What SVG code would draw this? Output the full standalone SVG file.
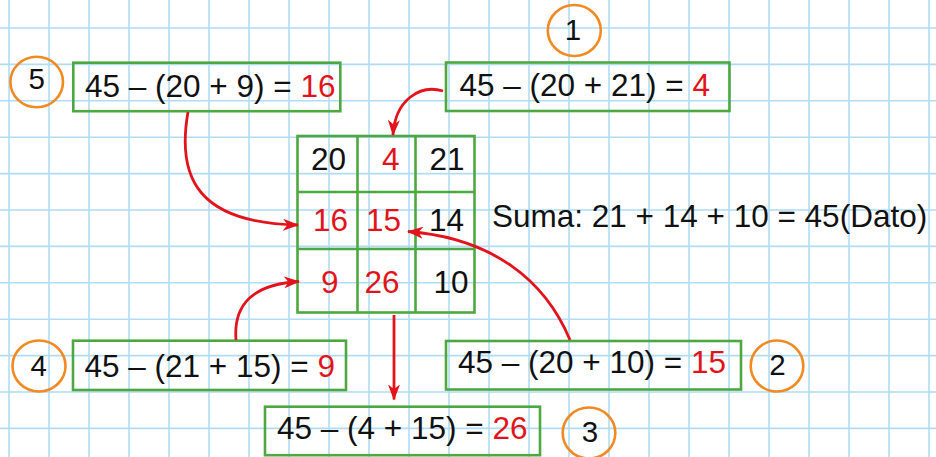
<svg xmlns="http://www.w3.org/2000/svg" width="936" height="457" viewBox="0 0 936 457">
<defs>
<style>
.grid{stroke:#b0dcf5;stroke-width:1.6;fill:none}
.box{fill:none;stroke:#4ea842;stroke-width:2.6}
.circ{fill:none;stroke:#f28a24;stroke-width:2.6}
.t{font-family:"Liberation Sans",Arial,sans-serif;font-size:31.5px;fill:#111}
.n{font-family:"Liberation Sans",Arial,sans-serif;font-size:29.5px;fill:#111;text-anchor:middle}
.r{fill:#e3131b}
.arr{fill:none;stroke:#e3131b;stroke-width:2.8}
</style>
<marker id="ah" viewBox="0 0 16 12" refX="15" refY="6" markerWidth="16" markerHeight="12" markerUnits="userSpaceOnUse" orient="auto">
<path d="M0,0 L16,6 L0,12 L4.5,6 Z" fill="#e3131b"/>
</marker>
</defs>
<rect width="936" height="457" fill="#ffffff"/>
<g id="grid-paper">
<path class="grid" d="M0,28H936M0,64.4H936M0,100.8H936M0,137.2H936M0,173.6H936M0,210H936M0,246.4H936M0,282.8H936M0,319.2H936M0,355.6H936M0,392H936M0,428.4H936
M9,0V457M49,0V457M89,0V457M129,0V457M169,0V457M209,0V457M249,0V457M289,0V457M329,0V457M369,0V457M409,0V457M449,0V457M489,0V457M529,0V457M569,0V457M609,0V457M649,0V457M689,0V457M729,0V457M769,0V457M809,0V457M849,0V457M889,0V457M929,0V457"/>
</g>
<g id="magic-square">
<rect class="box" x="297.5" y="136" width="177" height="176.5"/>
<path class="box" d="M357.5,136V312.5M415.5,136V312.5M297.5,192H474.5M297.5,249H474.5"/>
<text class="t" x="311" y="170">20</text>
<text class="t r" x="382" y="170">4</text>
<text class="t" x="429.5" y="170">21</text>
<text class="t r" x="313" y="231">16</text>
<text class="t r" x="366" y="231">15</text>
<text class="t" x="429" y="231">14</text>
<text class="t r" x="321" y="292.5">9</text>
<text class="t r" x="364.5" y="292.5">26</text>
<text class="t" x="433.5" y="292.5">10</text>
</g>
<g id="sum-label">
<text class="t" x="492" y="226.5">Suma: 21 + 14 + 10 = 45(Dato)</text>
</g>
<g id="step1">
<ellipse class="circ" cx="574.3" cy="30.5" rx="26.5" ry="25.5"/>
<text class="n" x="573" y="39.5">1</text>
<rect class="box" x="446" y="62.5" width="283.5" height="48.5"/>
<text class="t" x="459.5" y="96">45 – (20 + 21) = <tspan class="r">4</tspan></text>
</g>
<g id="step2">
<ellipse class="circ" cx="777" cy="366" rx="26.3" ry="25.5"/>
<text class="n" x="777.5" y="375">2</text>
<rect class="box" x="446" y="341" width="295" height="48.5"/>
<text class="t" x="458" y="372.5">45 – (20 + 10) = <tspan class="r">15</tspan></text>
</g>
<g id="step3">
<ellipse class="circ" cx="589" cy="433" rx="26.3" ry="25.5"/>
<text class="n" x="590" y="441.7">3</text>
<rect class="box" x="265" y="406.7" width="275" height="48.5"/>
<text class="t" x="277" y="439">45 – (4 + 15) = <tspan class="r">26</tspan></text>
</g>
<g id="step4">
<ellipse class="circ" cx="39" cy="366" rx="26.5" ry="25.5"/>
<text class="n" x="38.7" y="376">4</text>
<rect class="box" x="73" y="340.7" width="273" height="49.3"/>
<text class="t" x="84.5" y="377">45 – (21 + 15) = <tspan class="r">9</tspan></text>
</g>
<g id="step5">
<ellipse class="circ" cx="36.7" cy="82" rx="26.3" ry="25.3"/>
<text class="n" x="36.8" y="89.3">5</text>
<rect class="box" x="73.3" y="62.7" width="267" height="48.5"/>
<text class="t" x="85" y="96.5">45 – (20 + 9) = <tspan class="r">16</tspan></text>
</g>
<g id="connectors">
<path class="arr" marker-end="url(#ah)" d="M443,91 C420,84 395,100 393,135"/>
<path class="arr" marker-end="url(#ah)" d="M188,112 C176,180 200,223 298,225"/>
<path class="arr" marker-end="url(#ah)" d="M236,340 C233,303 255,284 299,281.5"/>
<path class="arr" marker-end="url(#ah)" d="M394,315 V399.5"/>
<path class="arr" marker-end="url(#ah)" d="M570,340 C545,280 492,238 408,231.5"/>
</g>
</svg>
